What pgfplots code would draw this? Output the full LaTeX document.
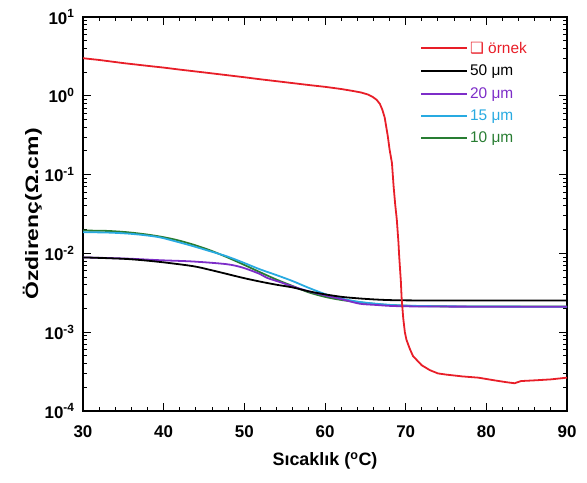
\documentclass[border=0pt]{standalone}
\usepackage{pgfplots}
\pgfplotsset{compat=1.18}
\usepackage{graphicx}
\usepackage{fontspec}
\setmainfont{Liberation Sans}
\newfontfamily\djv{DejaVu Sans}
\definecolor{cred}{RGB}{232,30,40}
\definecolor{cpur}{RGB}{125,45,200}
\definecolor{ccya}{RGB}{40,170,225}
\definecolor{cgrn}{RGB}{40,125,50}
\begin{document}
\begin{tikzpicture}
\begin{axis}[
  scale only axis, width=484bp, height=394bp,
  ymode=log, xmin=30, xmax=90, ymin=1e-4, ymax=10,
  xtick={30,40,...,90}, minor x tick num=4,
  ytick={1e-4,1e-3,1e-2,1e-1,1,10},
  yticklabels={10\textsuperscript{-4},10\textsuperscript{-3},10\textsuperscript{-2},10\textsuperscript{-1},10\textsuperscript{0},10\textsuperscript{1}},
  /pgf/number format/assume math mode=true,
  tick label style={font=\fontsize{17}{19}\selectfont\bfseries},
  xticklabel style={yshift=-11bp},
  yticklabel style={xshift=-5bp},
  tick align=inside, tick pos=both,
  major tick length=8bp, minor tick length=4bp,
  axis line style={line width=1.3pt},
  every tick/.style={line width=1pt, black},
  xlabel={Sıcaklık (\textsuperscript{o}C)},
  ylabel={\scalebox{1.28}[1]{Özdirenç(Ω.cm)}},
  label style={font=\fontsize{18}{20}\selectfont\bfseries},
  xlabel style={yshift=-8bp},
  ylabel style={yshift=-4bp},
  legend reversed,
  legend style={draw=none, fill=none, at={(0.696,0.942)}, anchor=north west,
    font=\fontsize{15.5}{17}\selectfont, row sep=6.2bp, inner sep=0pt},
  legend cell align=left,
  legend image code/.code={\draw[#1,line width=2pt] (0bp,0bp) -- (46bp,0bp);},
]
\addplot[cgrn, line width=1.8pt, smooth] coordinates {
(30,0.0195) (33,0.0193) (35.4,0.0186) (37.5,0.0176) (39.5,0.0164) (41.5,0.0149) (43.6,0.0130) (45.7,0.0110) (47.8,0.0090) (49.8,0.0073) (51.9,0.00580) (54,0.00465) (56,0.00385) (58,0.00320) (60.2,0.00278) (62.2,0.00255) (64.3,0.00240) (66.3,0.00228) (68.4,0.00220) (72,0.00214) (78,0.00212) (85,0.00212) (90,0.00212)};
\addlegendentry{\textcolor{cgrn}{10 μm}}
\addplot[ccya, line width=1.8pt, smooth] coordinates {
(30,0.0186) (33,0.0184) (35.4,0.0179) (37.5,0.0171) (39.5,0.0160) (41.5,0.0142) (43.6,0.0124) (45.7,0.0107) (47.8,0.0092) (49.8,0.0077) (51.9,0.00630) (54,0.00530) (56,0.00445) (58,0.00365) (60.2,0.00300) (62.2,0.00265) (64.3,0.00242) (66.3,0.00230) (68.4,0.00221) (72,0.00215) (78,0.00212) (85,0.00211) (90,0.00211)};
\addlegendentry{\textcolor{ccya}{15 μm}}
\addplot[cpur, line width=1.8pt, smooth] coordinates {
(30,0.0089) (35.4,0.0086) (39.5,0.0082) (43.6,0.0079) (47.8,0.0073) (49.8,0.0066) (51.9,0.0055) (52.8,0.0049) (54.5,0.0043) (56,0.0038) (58,0.0033) (60.2,0.0029) (62.2,0.0026) (64.3,0.0023) (66.3,0.00222) (68.4,0.00215) (72,0.00212) (78,0.00211) (85,0.00210) (90,0.00210)};
\addlegendentry{\textcolor{cpur}{20 μm}}
\addplot[black, line width=1.8pt, smooth] coordinates {
(30,0.0089) (35.4,0.0085) (39.5,0.0078) (43.6,0.0069) (45.7,0.0062) (47.8,0.0055) (49.8,0.0049) (51.9,0.0044) (54,0.0040) (56,0.0037) (58,0.0033) (60.2,0.0030) (62.2,0.0028) (64.3,0.00268) (66.3,0.00260) (68.4,0.00255) (72,0.00253) (80,0.00253) (90,0.00253)};
\addlegendentry{50 μm}
\addplot[cred, line width=1.8pt] coordinates {
(30,3.0) (32,2.85) (35,2.6) (38,2.4) (40,2.28) (42,2.15) (45,1.98) (48,1.82) (50,1.72) (52,1.62) (55,1.49) (58,1.37) (60,1.30) (62,1.22) (63.5,1.15) (64.5,1.10) (65.3,1.04) (65.9,0.97) (66.4,0.89) (66.8,0.79) (67.1,0.67) (67.4,0.53) (67.6,0.40) (67.8,0.30) (68.0,0.21) (68.3,0.14) (68.5,0.072) (68.7,0.042) (68.9,0.027) (69.1,0.014) (69.2,0.0091) (69.4,0.0045) (69.5,0.0027) (69.7,0.0015) (69.9,0.0010) (70.1,0.00080) (70.5,0.00062) (70.9,0.00050) (71.5,0.00043) (72,0.00038) (73,0.00033) (74,0.00030) (75,0.00029) (77,0.000275) (79,0.000265) (81,0.000245) (82.5,0.000232) (83.5,0.000225) (84.3,0.000240) (86,0.000245) (88,0.000252) (90,0.000265)};
\addlegendentry{\textcolor{cred}{{\djv ❑} örnek}}
\end{axis}
\pgfresetboundingbox
\path ([xshift=-83bp,yshift=-71bp]current axis.south west) rectangle ([xshift=20bp,yshift=17bp]current axis.north east);
\end{tikzpicture}
\end{document}
